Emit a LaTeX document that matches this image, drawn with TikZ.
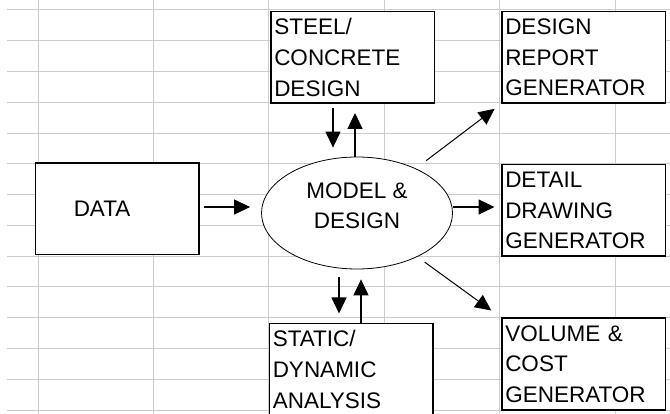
\documentclass[tikz,border=0pt]{standalone}
\usepackage{fontspec}
\setmainfont{Liberation Sans}
\usetikzlibrary{shapes.geometric, arrows.meta}
\tikzset{
    base/.style={draw=black, line width=1.5pt, fill=white, font=\fontsize{22.5}{30.7}\selectfont},
    box/.style={base, rectangle, minimum width=163.5pt, minimum height=91.5pt, inner xsep=3.5pt, text width=156.5pt, align=left},
    databox/.style={box, inner xsep=38.5pt, text width=86.5pt},
    bubble/.style={base, ellipse, line width=0.8pt, minimum width=191pt, minimum height=112pt, align=center, text depth=15pt},
    arrow/.style={line width=1.2pt, -{Triangle[length=16pt,width=15pt]}},
    gridline/.style={draw=black!20, line width=1pt}
}

\begin{document}
\begin{tikzpicture}[x=1pt, y=-1pt]
        \useasboundingbox (0,0) rectangle (670,414);
        % Grid
        \foreach \i in {0,...,5}
            \draw[gridline] ({38+115.4*\i},0) -- ++(0,414);
        \foreach \j in {0,...,13}
            \draw[gridline] (7,{10+30.77*\j}) -- (670,{10+30.77*\j});

        % Nodes
        \node (steel) [box] at (352.5,57.5) {STEEL/\\CONCRETE\\DESIGN};
        \node (report) [box] at (583.5,57.5) {DESIGN\\REPORT\\GENERATOR};
        \node (data) [databox] at (117,209) {DATA};
        \node (model) [bubble] at (357,213) {MODEL \&\\DESIGN};
        \node (detail) [box] at (583.5,210.5) {DETAIL\\DRAWING\\GENERATOR};
        \node (static) [box] at (351,369.5) {STATIC/\\DYNAMIC\\ANALYSIS};
        \node (volume) [box] at (583.5,364) {VOLUME \&\\COST\\GENERATOR};

        % Arrows
        \draw [arrow, shorten <=4.5pt, shorten >=11pt] ([yshift=2pt]data.east) -- ([yshift=2pt]data.east -| model.west);
        \draw [arrow, shorten <=4.5pt, shorten >=9pt] ([xshift=-19.5pt]steel.south) -- ([xshift=-19.5pt]steel.south |- model.north);
        \draw [arrow, shorten >=9pt] ([xshift=2.5pt]steel.south |- model.north) -- ([xshift=2.5pt]steel.south);
        \draw [arrow, shorten <=8pt, shorten >=9.5pt] ([xshift=-12pt]static.north |- model.south) -- ([xshift=-12pt]static.north);
        \draw [arrow, shorten >=10pt] ([xshift=10pt]static.north) -- ([xshift=10pt]static.north |- model.south);
        \draw [arrow, shorten >=6.5pt] ([yshift=6pt]model.east) -- ([yshift=6pt]model.east -| detail.west);

        % Diagonal arrows
        \draw [arrow, line width=1pt, shorten <=13pt, shorten >=8pt] (model) -- (report.south west);
        \draw [arrow, line width=1pt, shorten <=9pt, shorten >=12pt] (model) -- (volume.north west);
\end{tikzpicture}
\end{document}
